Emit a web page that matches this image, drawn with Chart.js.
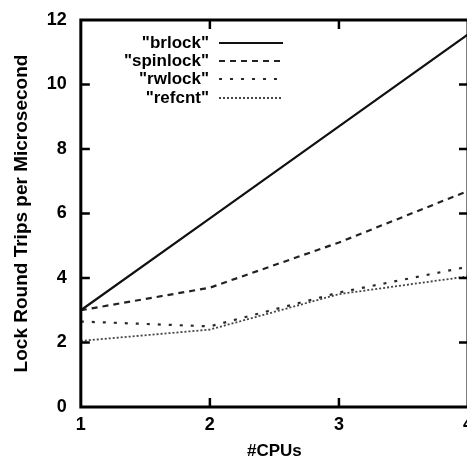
<!DOCTYPE html>
<html>
<head>
<meta charset="utf-8">
<style>
  html, body { margin: 0; padding: 0; background: #fff; overflow: hidden; }
  #wrap { width: 480px; height: 462px; }
</style>
</head>
<body>
<div id="wrap"><canvas id="myChart"></canvas></div>
<script src="https://cdn.jsdelivr.net/npm/chart.js@4.4.1/dist/chart.umd.min.js"></script>
<script>
  // values
  const cpus = [1, 2, 3, 4];
  const brlock = [3.0, 5.85, 8.7, 11.55];
  const spinlock = [3.0, 3.7, 5.1, 6.7];
  const rwlock = [2.65, 2.5, 3.55, 4.35];
  const refcnt = [2.05, 2.4, 3.5, 4.05];
  const seriesNames = ['"brlock"', '"spinlock"', '"rwlock"', '"refcnt"'];
  const yTicks = [0, 2, 4, 6, 8, 10, 12];

  const family = '"Liberation Sans", Arial, sans-serif';

  function pts(ys) {
    return cpus.map((x, i) => ({ x: x, y: ys[i] }));
  }

  // gnuplot style: inward ticks on all four sides, frame, key on the left
  const framePlugin = {
    id: 'frame',
    afterDraw(chart) {
      const ctx = chart.ctx;
      const a = chart.chartArea;
      const xs = chart.scales.x, ys = chart.scales.y;
      ctx.save();
      ctx.strokeStyle = '#000';
      ctx.lineWidth = 3;
      ctx.strokeRect(a.left, a.top, a.right - a.left, a.bottom - a.top);
      ctx.lineWidth = 2.5;
      ctx.beginPath();
      cpus.slice(1, -1).forEach(v => {
        const px = xs.getPixelForValue(v);
        ctx.moveTo(px, a.bottom); ctx.lineTo(px, a.bottom - 9);
        ctx.moveTo(px, a.top); ctx.lineTo(px, a.top + 9);
      });
      yTicks.slice(1, -1).forEach(v => {
        const py = ys.getPixelForValue(v);
        ctx.moveTo(a.left, py); ctx.lineTo(a.left + 9, py);
        ctx.moveTo(a.right, py); ctx.lineTo(a.right - 9, py);
      });
      ctx.stroke();

      // key
      ctx.font = 'bold 17px ' + family;
      ctx.fillStyle = '#000';
      ctx.textAlign = 'right';
      ctx.textBaseline = 'middle';
      const keyY = [43, 61, 79, 98];
      chart.data.datasets.forEach((ds, i) => {
        const y = keyY[i];
        ctx.fillText(ds.label, 209, y);
        ctx.beginPath();
        ctx.strokeStyle = ds.borderColor;
        ctx.lineWidth = ds.borderWidth;
        ctx.setLineDash(ds.borderDash || []);
        ctx.moveTo(219, y);
        ctx.lineTo(283, y);
        ctx.stroke();
        ctx.setLineDash([]);
      });
      ctx.restore();
    }
  };

  const ctx = document.getElementById('myChart').getContext('2d');
  const myChart = new Chart(ctx, {
    type: 'line',
    data: {
      datasets: [
        { label: seriesNames[0], data: pts(brlock), borderColor: '#111', borderWidth: 2.2, borderDash: [] },
        { label: seriesNames[1], data: pts(spinlock), borderColor: '#222', borderWidth: 2.2, borderDash: [6, 5] },
        { label: seriesNames[2], data: pts(rwlock), borderColor: '#2a2a2a', borderWidth: 2.2, borderDash: [3, 8] },
        { label: seriesNames[3], data: pts(refcnt), borderColor: '#444', borderWidth: 1.8, borderDash: [2, 2] }
      ]
    },
    options: {
      responsive: true,
      maintainAspectRatio: false,
      animation: false,
      elements: { point: { radius: 0 }, line: { tension: 0 } },
      layout: { padding: { left: 10, top: 20, right: 0, bottom: 0 } },
      plugins: { legend: { display: false }, tooltip: { enabled: false } },
      scales: {
        x: {
          type: 'linear',
          min: 1, max: 4,
          grid: { display: false, drawTicks: false },
          border: { display: false },
          afterFit(scale) { scale.height = 55; },
          ticks: {
            stepSize: 1,
            color: '#000',
            padding: 7,
            font: { family: family, size: 18, weight: 'bold' }
          },
          title: {
            display: true,
            text: '#CPUs',
            color: '#000',
            padding: { top: 0, bottom: 0 },
            font: { family: family, size: 17, weight: 'bold' }
          }
        },
        y: {
          type: 'linear',
          min: 0, max: 12,
          grid: { display: false, drawTicks: false },
          border: { display: false },
          afterBuildTicks(scale) { scale.ticks = yTicks.map(v => ({ value: v })); },
          afterFit(scale) { scale.paddingTop = 0; scale.paddingBottom = 0; },
          ticks: {
            color: '#000',
            padding: 14,
            font: { family: family, size: 18, weight: 'bold' }
          },
          title: {
            display: true,
            text: 'Lock Round Trips per Microsecond',
            color: '#000',
            padding: { top: 0, bottom: 0 },
            font: { family: family, size: 19, weight: 'bold' }
          }
        }
      }
    },
    plugins: [framePlugin]
  });
</script>
</body>
</html>
